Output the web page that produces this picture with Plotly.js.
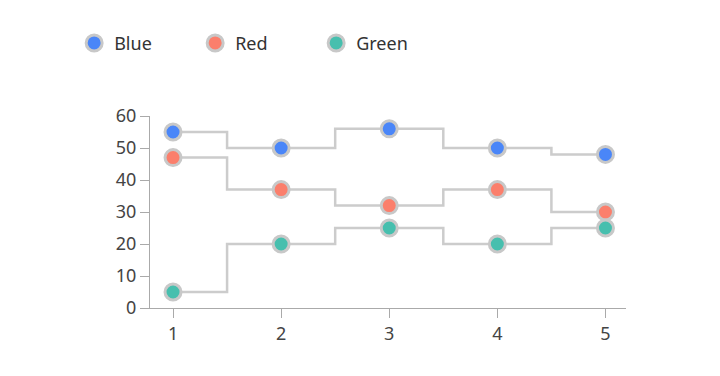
<!DOCTYPE html>
<html>
<head>
<meta charset="utf-8">
<script src="https://cdn.plot.ly/plotly-3.0.1.min.js"></script>
<style>html,body{margin:0;padding:0;background:#fff}#chart{width:720px;height:376px}</style>
</head>
<body>
<div id="chart"></div>
<script>
const xValues = [1, 2, 3, 4, 5];
const seriesNames = ["Blue", "Red", "Green"];
const blueValues = [55, 50, 56, 50, 48];
const redValues = [47, 37, 32, 37, 30];
const greenValues = [5, 20, 25, 20, 25];
const seriesColors = ["#4a86f8", "#fb7f6c", "#47bfae"];
const allValues = [blueValues, redValues, greenValues];

const lineTraces = allValues.map((vals, i) => ({
  type: "scatter",
  mode: "lines",
  name: seriesNames[i],
  showlegend: false,
  x: xValues,
  y: vals,
  line: {shape: "hvh", color: "#cccccc", width: 2.5}
}));
const markerTraces = allValues.map((vals, i) => ({
  type: "scatter",
  mode: "markers",
  name: seriesNames[i],
  x: xValues,
  y: vals,
  marker: {size: 16, color: seriesColors[i], line: {color: "#c8c8c8", width: 3}}
}));

const layout = {
  width: 720, height: 376,
  margin: {l: 150, r: 94, t: 116, b: 68},
  paper_bgcolor: "#fff", plot_bgcolor: "#fff",
  font: {family: "Noto Sans, sans-serif", size: 18, color: "#444"},
  showlegend: true,
  legend: {orientation: "h", xref: "container", yref: "container", x: 0.103, y: 0.885, xanchor: "left", yanchor: "middle",
           entrywidth: 76, entrywidthmode: "pixels", font: {size: 18, color: "#333"}},
  xaxis: {range: [0.787, 5.19], tickvals: xValues, ticks: "outside", ticklen: 9, tickcolor: "#aaa",
          showline: true, linecolor: "#aaa", linewidth: 1, showgrid: false, zeroline: false, tickfont: {size: 18, color: "#444"}},
  yaxis: {range: [0, 60], dtick: 10, ticks: "outside", ticklen: 9, tickcolor: "#aaa",
          showline: true, linecolor: "#aaa", linewidth: 1, showgrid: false, zeroline: false, tickfont: {size: 18, color: "#444"}}
};

Plotly.newPlot("chart", lineTraces.concat(markerTraces), layout, {displayModeBar: false, staticPlot: true});
</script>
</body>
</html>
